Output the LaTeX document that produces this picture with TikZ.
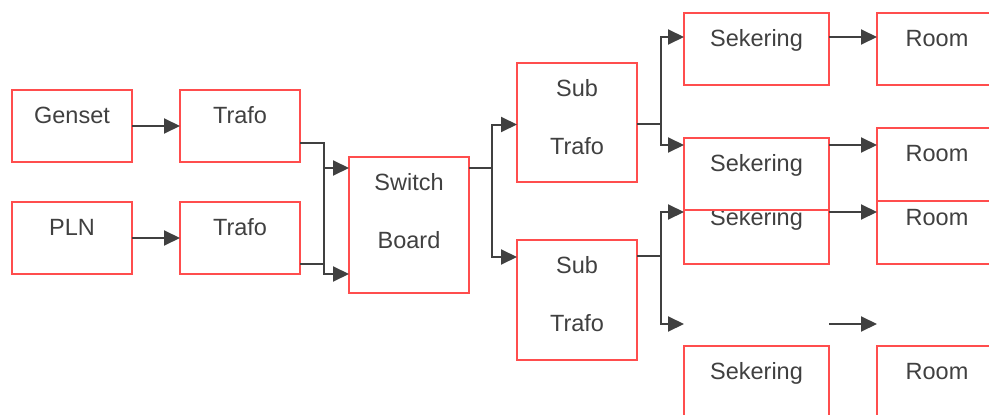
\documentclass[tikz,border=0pt]{standalone}
\usepackage{fontspec}
\setmainfont{Liberation Sans}
\usepackage{tikz}
\usetikzlibrary{positioning,arrows.meta}
\definecolor{boxred}{RGB}{255,77,77}
\definecolor{inkgray}{RGB}{64,64,64}

\begin{document}
\begin{tikzpicture}[
    x=1pt, y=-1pt,
    box/.style={draw=boxred, line width=2pt, fill=white, text=inkgray, anchor=north west,
        inner sep=0pt, outer sep=0pt, align=center, font=\fontsize{23.5}{28}\selectfont,
        minimum width=120pt, minimum height=72pt, text height=33.5pt, text depth=38.5pt},
    wide/.style={box, minimum width=145pt},
    arr/.style={-{Triangle[length=16pt,width=15pt]}, line width=2pt, draw=inkgray},
    wire/.style={line width=2pt, draw=inkgray}
]
\clip (0,0) rectangle (989,415);

\node[box] (genset) at (12,90) {Genset};
\node[box, right=48pt of genset] (trafoA) {Trafo};
\node[box, below=40pt of genset] (pln) {PLN};
\node[box, below=40pt of trafoA] (trafoB) {Trafo};

\node[box, minimum height=136pt, text height=91.5pt, text depth=44.5pt] (switch) at (349,157) {Switch\\[30pt]Board};

\node[box, minimum height=119pt, text height=91.5pt, text depth=27.5pt] (subA) at (517,63) {Sub\\[30pt]Trafo};
\node[box, minimum height=120pt, text height=91.5pt, text depth=28.5pt] (subB) at (517,240) {Sub\\[30pt]Trafo};

\node[wide] (sekA) at (684,13) {Sekering};
\node[box, right=48pt of sekA] (roomA) {Room};
\node[wide] (sekC) at (684,192) {Sekering};
\node[box, right=48pt of sekC] (roomC) {Room};
\node[wide] (sekB) at (684,138) {Sekering};
\node[box, minimum height=73pt, text depth=39.5pt] (roomB) at (877,128) {Room};
\node[wide] (sekD) at (684,346) {Sekering};
\node[box, right=48pt of sekD] (roomD) {Room};

\draw[arr] (genset) -- (trafoA);
\draw[arr] (pln) -- (trafoB);

\coordinate (swinA) at ([yshift=-11pt]switch.north west);
\coordinate (swinB) at ([yshift=19pt]switch.south west);
\draw[arr] ([yshift=-17pt]trafoA.east) -- ++(24pt,0pt) coordinate (busL) |- (swinB);
\draw[arr] (busL |- swinA) -- (swinA);
\draw[wire] ([yshift=-26pt]trafoB.east) -| (busL);

\coordinate (swout) at ([yshift=-11pt]switch.north east);
\draw[arr] (swout) -- ++(23pt,0pt) coordinate (busM) |- ([yshift=-2pt]subA.west);
\draw[arr] (busM) |- ([yshift=-17pt]subB.north west);

\draw[arr] ([yshift=-1.5pt]subA.east) -- ++(24pt,0pt) coordinate (busA) |- ([yshift=-24pt]sekA.north west);
\draw[arr] (busA) |- ([yshift=-7pt]sekB.north west);

\coordinate (gapL) at ([yshift=22pt]sekD.north west);
\coordinate (gapR) at ([yshift=22pt]roomD.north west);
\draw[arr] ([yshift=-16pt]subB.north east) -- ++(24pt,0pt) coordinate (busB) |- ([yshift=-20pt]sekC.north west);
\draw[arr] (busB) |- (gapL);

\draw[arr] ([yshift=-24pt]sekA.north east) -- ([yshift=-24pt]roomA.north west);
\draw[arr] ([yshift=-7pt]sekB.north east) -- ([yshift=-17pt]roomB.north west);
\draw[arr] ([yshift=-20pt]sekC.north east) -- ([yshift=-20pt]roomC.north west);
\draw[arr] (sekD.north east |- gapL) -- (gapR);

\end{tikzpicture}
\end{document}
